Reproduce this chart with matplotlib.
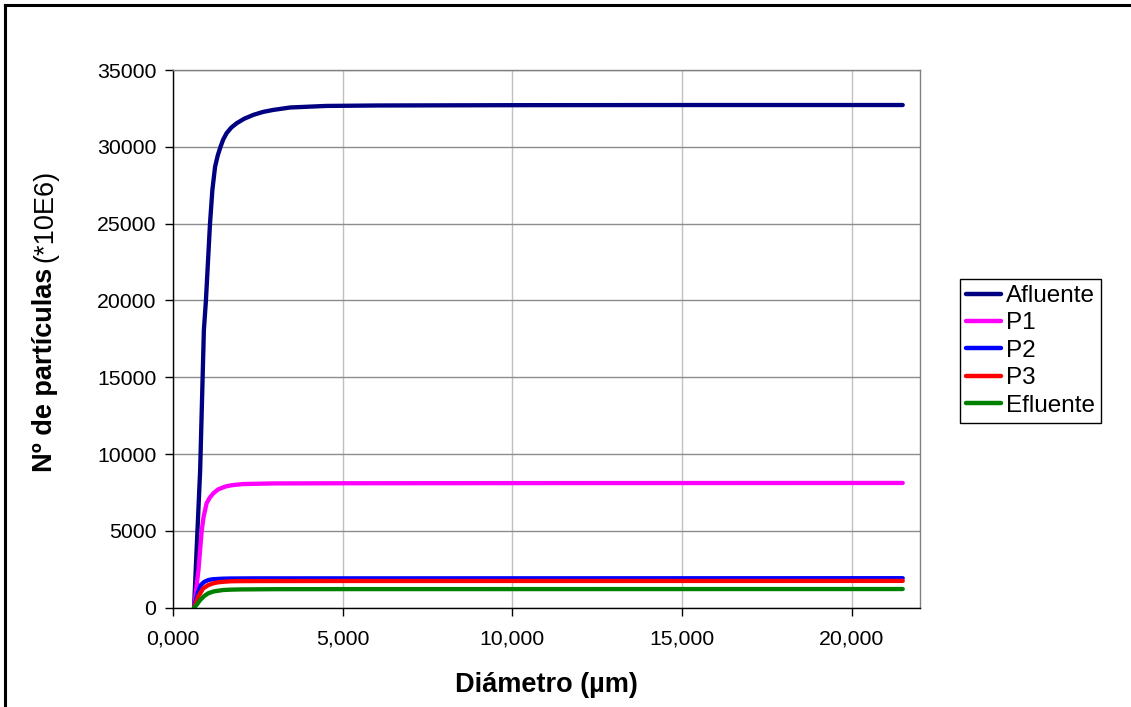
import numpy as np
import matplotlib
matplotlib.use('Agg')
import matplotlib.pyplot as plt
from matplotlib.ticker import FuncFormatter, MultipleLocator
from matplotlib.lines import Line2D

plt.rcParams['font.family'] = ['Liberation Sans', 'DejaVu Sans']

# Diámetro (µm) and cumulative particle counts (*10E6)
afl_x = [0.62, 0.80, 0.91, 0.97, 1.09, 1.16, 1.24, 1.32, 1.40, 1.48, 1.58, 1.72, 1.88, 2.10, 2.37, 2.65, 2.95, 3.45, 4.5, 6.0, 10.0, 15.0, 21.5]
afl_y = [0, 8950, 18070, 20000, 25000, 27190, 28710, 29450, 30000, 30480, 30890, 31260, 31540, 31830, 32080, 32270, 32400, 32560, 32660, 32690, 32710, 32720, 32720]

p1_x = [0.62, 0.75, 0.845, 0.90, 0.99, 1.08, 1.19, 1.33, 1.53, 1.75, 2.07, 3.0, 5.0, 10.0, 21.5]
p1_y = [0, 2450, 5000, 5900, 6800, 7150, 7450, 7700, 7880, 7980, 8050, 8090, 8100, 8110, 8120]

p2_x = [0.62, 0.72, 0.82, 0.92, 1.04, 1.16, 1.3, 1.48, 1.68, 2.0, 2.5, 5.0, 21.5]
p2_y = [0, 900, 1480, 1680, 1800, 1850, 1870, 1890, 1900, 1905, 1910, 1910, 1920]

p3_x = [0.62, 0.75, 0.89, 1.04, 1.19, 1.32, 1.45, 1.7, 2.0, 2.5, 5.0, 21.5]
p3_y = [0, 750, 1260, 1470, 1590, 1650, 1680, 1720, 1730, 1735, 1740, 1745]

efl_x = [0.62, 0.70, 0.80, 0.92, 1.04, 1.20, 1.47, 1.70, 2.0, 3.0, 5.0, 21.5]
efl_y = [0, 200, 500, 760, 940, 1060, 1150, 1175, 1190, 1205, 1210, 1215]

series = [
    ('Afluente', afl_x, afl_y, '#000080'),
    ('P1', p1_x, p1_y, '#FF00FF'),
    ('P2', p2_x, p2_y, '#0000FF'),
    ('P3', p3_x, p3_y, '#FF0000'),
    ('Efluente', efl_x, efl_y, '#008000'),
]

W, H = 1131, 707
fig = plt.figure(figsize=(W / 100, H / 100), dpi=100)
ax = fig.add_axes([173 / W, 1 - 607.7 / H, (919.7 - 173) / W, (607.7 - 70) / H])

for name, xs, ys, col in series:
    ax.plot(xs, ys, color=col, lw=3.1, label=name,
            solid_capstyle='round', solid_joinstyle='round')

ax.set_xlim(0, 22)
ax.set_ylim(0, 35000)
ax.xaxis.set_major_locator(MultipleLocator(5))
ax.yaxis.set_major_locator(MultipleLocator(5000))
ax.xaxis.set_major_formatter(FuncFormatter(lambda v, p: f'{v:.3f}'.replace('.', ',')))
ax.yaxis.set_major_formatter(FuncFormatter(lambda v, p: f'{int(v)}'))

ax.grid(True, axis='y', color='#8c8c8c', lw=1)
ax.grid(True, axis='x', color='#c0c0c0', lw=1)
ax.set_axisbelow(True)

for s in ['top', 'right']:
    ax.spines[s].set_color('#808080')
for s in ['left', 'bottom']:
    ax.spines[s].set_color('black')
for s in ax.spines.values():
    s.set_linewidth(1)

ax.tick_params(axis='both', direction='out', length=6, width=1, labelsize=15.3, color='black')
ax.tick_params(axis='x', pad=10)
ax.tick_params(axis='y', pad=6)

fig.text(546 / W, 1 - 685 / H, 'Diámetro (µm)', ha='center', va='center',
         fontsize=19.5, fontweight='bold')

# y label: bold part + normal part
t1 = fig.text(45 / W, 1 - 472 / H, 'Nº de partículas', rotation=90, rotation_mode='anchor',
              ha='left', va='center', fontsize=19.5, fontweight='bold')
fig.canvas.draw()
bb = t1.get_window_extent(fig.canvas.get_renderer())
fig.text(45 / W, (bb.y1 + 6) / H, '(*10E6)', rotation=90, rotation_mode='anchor',
         ha='left', va='center', fontsize=19.5)

leg = ax.legend(loc='upper left', bbox_to_anchor=(960 / W, 1 - 279 / H),
                bbox_transform=fig.transFigure, borderaxespad=0, fontsize=17.5,
                handlelength=1.45, handletextpad=0.2, labelspacing=0.22,
                borderpad=0.25, fancybox=False, framealpha=1, edgecolor='black')
leg.get_frame().set_linewidth(1)
for ln in leg.get_lines():
    ln.set_linewidth(3.2)

# outer chart border (top and left visible)
fig.add_artist(Line2D([5 / W, 5 / W], [0, 1 - 5 / H], transform=fig.transFigure, color='black', lw=2.2))
fig.add_artist(Line2D([5 / W, 1], [1 - 5 / H, 1 - 5 / H], transform=fig.transFigure, color='black', lw=2.2))

fig.savefig('out.png', dpi=100)
